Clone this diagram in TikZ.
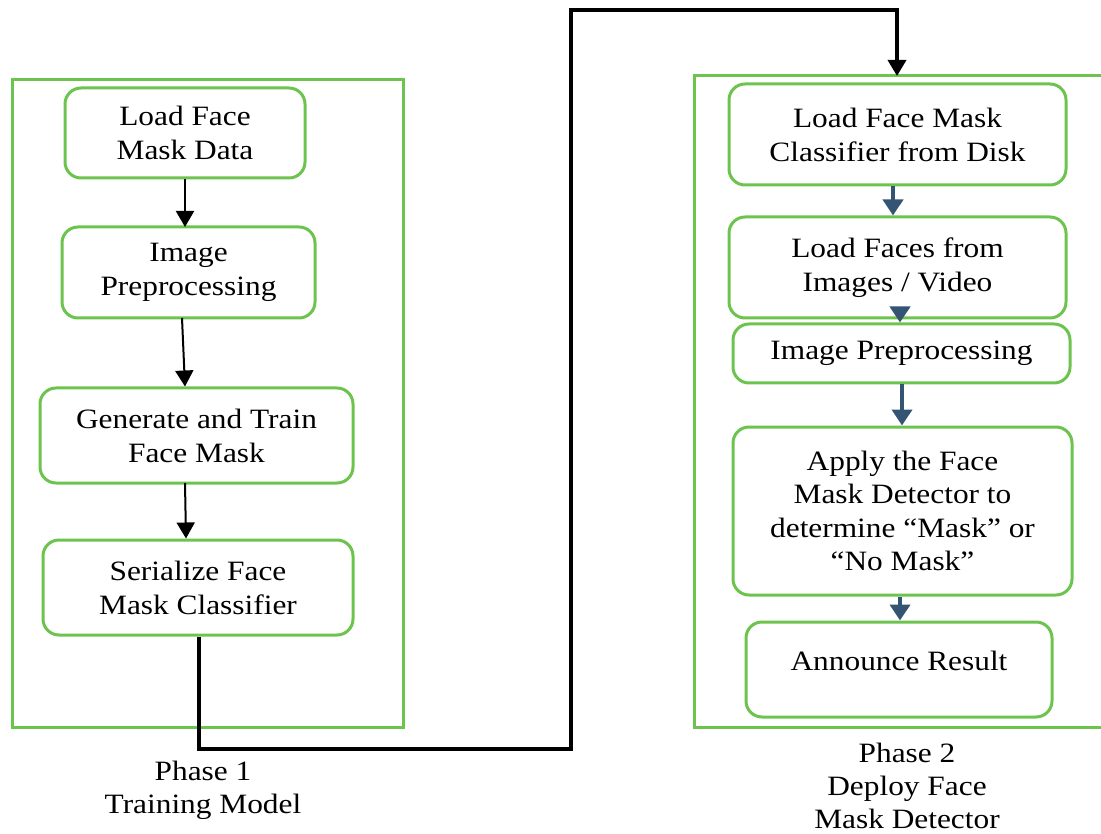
\documentclass[tikz,border=0pt]{standalone}
\usepackage{fontspec}
\setmainfont{Liberation Serif}[FakeStretch=1.12]
\usetikzlibrary{arrows.meta}
\definecolor{boxgreen}{RGB}{108,196,78}
\definecolor{arrowblue}{RGB}{52,84,116}
\tikzset{
  stepbox/.style={draw=boxgreen, line width=3pt, rounded corners=16pt, fill=white,
    align=center, inner sep=0pt, font=\fontsize{28}{34}\selectfont},
  phasebox/.style={draw=boxgreen, line width=3pt},
  blackarr/.style={draw=black, line width=2pt, -{Triangle[width=18pt,length=16pt]}},
  bluearr/.style={draw=arrowblue, line width=4pt, -{Triangle[width=20pt,length=16pt]}},
  linkline/.style={draw=black, line width=3.5pt},
  phaselabel/.style={align=center, inner sep=0pt, font=\fontsize{28}{33}\selectfont}
}
\begin{document}
\begin{tikzpicture}[x=1pt,y=-1pt]
\useasboundingbox (0,0) rectangle (1101,834);
% phase containers
\draw[phasebox] (12,80) rectangle (403,727);
\draw[phasebox] (1110,76) -- (694,76) -- (694,727) -- (1110,727);
% left steps
\node[stepbox, minimum width=240pt, minimum height=90pt] (L1) at (185,133) {Load Face\\Mask Data};
\node[stepbox, minimum width=253pt, minimum height=91pt] (L2) at (188.5,272.5) {Image\\Preprocessing};
\node[stepbox, minimum width=313pt, minimum height=95pt] (L3) at (196.5,435.5) {Generate and Train\\Face Mask};
\node[stepbox, minimum width=310pt, minimum height=95pt] (L4) at (198,587.5) {Serialize Face\\Mask Classifier};
% right steps
\node[stepbox, minimum width=337pt, minimum height=101pt] (R1) at (897.5,134.5) {Load Face Mask\\Classifier from Disk};
\node[stepbox, minimum width=337pt, minimum height=101pt] (R2) at (897.5,267.5) {Load Faces from\\Images / Video};
\node[stepbox, minimum width=337pt, minimum height=59pt] (R3) at (901.5,353.5) {Image Preprocessing};
\node[stepbox, minimum width=339pt, minimum height=168pt, font=\fontsize{28}{33.5}\selectfont] (R4) at (902.5,511) {Apply the Face\\Mask Detector to\\determine “Mask” or\\“No Mask”};
\node[stepbox, minimum width=306pt, minimum height=95pt] (R5) at (899,669.5) {};
\node[inner sep=0pt, font=\fontsize{28}{34}\selectfont, anchor=base] (R5t) at (899,670) {Announce Result};
% left arrows
\draw[blackarr] (L1.south -| 185,0) -- (185,227);
\draw[blackarr] (182,318) -- (L3.north -| 185,0);
\draw[blackarr] (185,483) -- (L4.north -| 186,0);
% right arrows
\draw[bluearr] (R1.south -| 893,0) -- (R2.north -| 893,0);
\draw[bluearr] (R2.south -| 900,0) -- (R3.north -| 900,0);
\draw[bluearr] (R3.south -| 902,0) -- (R4.north -| 902,0);
\draw[bluearr] (R4.south -| 900,0) -- (R5.north -| 900,0);
% link between phases
\coordinate (c1) at (199,749);
\coordinate (c2) at (571,749);
\coordinate (c3) at (571,10);
\coordinate (c4) at (897,10);
\coordinate (p2top) at (897,76);
\draw[linkline, line join=miter] (L4.south -| c1) -- (c1) -- (c2) -- (c3) -- (c4) -- (897,56);
\draw[blackarr, line width=3.5pt] (897,50) -- (p2top);
% phase labels
\node[phaselabel] (P1) at (203,790) {Phase 1\\Training Model};
\node[phaselabel] (P2) at (907,786) {Phase 2\\Deploy Face\\Mask Detector};
\end{tikzpicture}
\end{document}
